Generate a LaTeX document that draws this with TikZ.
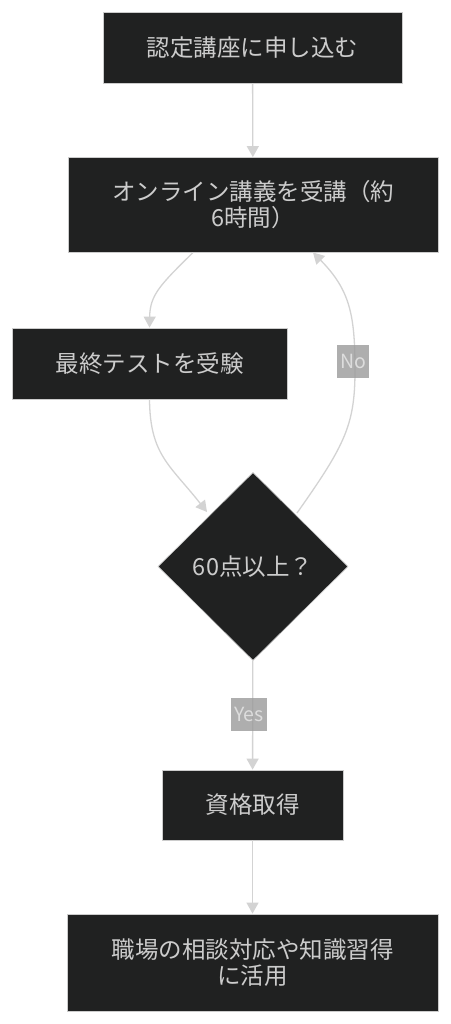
\documentclass[tikz,border=0pt]{standalone}
\usepackage{fontspec}
\newfontfamily\cjk{Noto Sans CJK JP}
\usetikzlibrary{arrows.meta,shapes.geometric}
\definecolor{boxfill}{HTML}{202121}
\definecolor{boxline}{HTML}{CCCCCC}
\definecolor{boxtext}{HTML}{CCCCCC}
\definecolor{edgecol}{HTML}{D3D3D3}
\definecolor{lblfill}{HTML}{9A9A9A}
\definecolor{lbltext}{HTML}{DDDDDD}
\tikzset{
  procbox/.style={draw=boxline, line width=0.8pt, fill=boxfill, text=boxtext,
    font=\cjk\fontsize{23.5}{26}\selectfont, align=center, inner sep=0pt},
  decbox/.style={draw=boxline, line width=0.6pt, fill=boxfill, text=boxtext,
    font=\cjk\fontsize{23.5}{26}\selectfont, diamond, aspect=1, inner sep=0pt,
    minimum width=190pt, minimum height=188pt},
  flow/.style={draw=edgecol, line width=1.3pt,
    -{Triangle[length=11pt,width=12pt]}},
  elabel/.style={fill=lblfill, fill opacity=0.8, text opacity=1, text=lbltext,
    font=\cjk\fontsize{19.5}{22}\selectfont, inner sep=3pt, minimum height=33pt}
}
\begin{document}
\begin{tikzpicture}[x=1pt,y=-1pt]
\useasboundingbox (0,0) rectangle (450,1024);
\node[procbox, minimum width=299pt, minimum height=71pt] (a) at (252.5,47.5) {認定講座に申し込む};
\node[procbox, minimum width=370pt, minimum height=95pt] (b) at (253,205) {オンライン講義を受講（約\\6時間）};
\node[procbox, minimum width=275pt, minimum height=71pt] (c) at (149.5,363.5) {最終テストを受験};
\node[decbox] (d) at (253,566.5) {60点以上？};
\node[procbox, minimum width=181pt, minimum height=70pt] (e) at (252.5,805) {資格取得};
\node[procbox, minimum width=371pt, minimum height=97pt] (f) at (252.5,962.5) {職場の相談対応や知識習得\\に活用};

\coordinate (b1) at (193,252.5);
\coordinate (b2) at (313,252.5);
\coordinate (d1) at (207,512);
\coordinate (d2) at (297,513);

\draw[flow] (b1) .. controls (160,285) and (150,295) .. (c.north);
\draw[flow] (a) -- (b);
\draw[flow] (c.south) .. controls (150,455) and (170,465) .. (d1);
\draw[flow] (d2) .. controls (345,445) and (355,425) .. (355,370)
  .. controls (355,315) and (350,290) .. (b2);
\draw[flow] (d) -- (e);
\draw[flow] (e) -- (f);

\node[elabel] (no) at (353,361) {No};
\node[elabel] (yes) at (249,714) {Yes};
\end{tikzpicture}
\end{document}
